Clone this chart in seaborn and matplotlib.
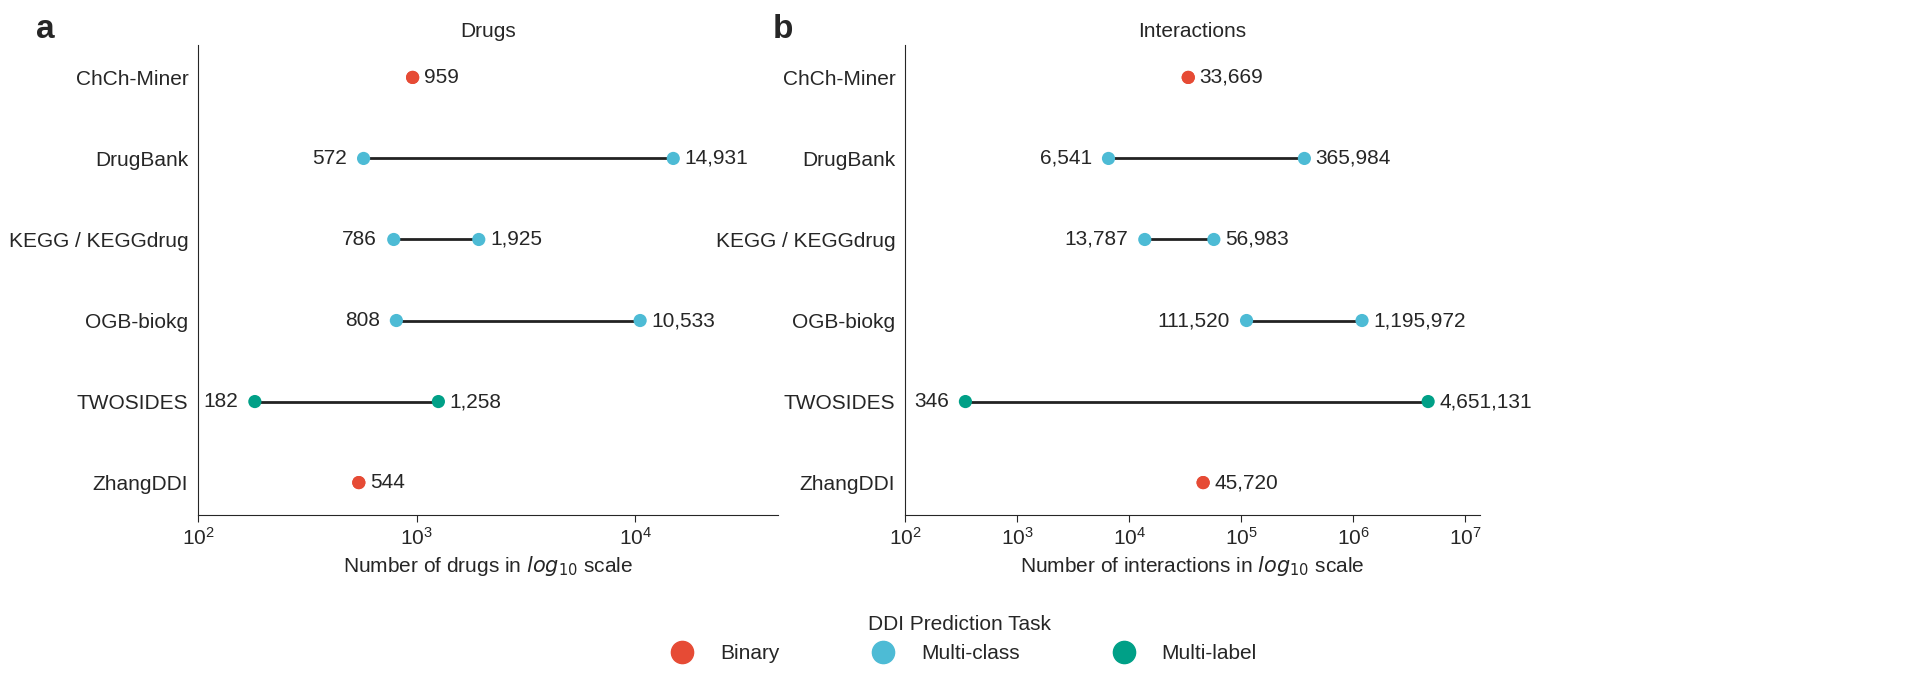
import matplotlib
matplotlib.use("Agg")
import matplotlib.pyplot as plt
import seaborn as sns
import pandas as pd
from matplotlib.lines import Line2D

datasets = ["ChCh-Miner", "DrugBank", "KEGG / KEGGdrug", "OGB-biokg", "TWOSIDES", "ZhangDDI"]
tasks = ["Binary", "Multi-class", "Multi-class", "Multi-class", "Multi-label", "Binary"]
drugs_min = [959, 572, 786, 808, 182, 544]
drugs_max = [959, 14931, 1925, 10533, 1258, 544]
inter_min = [33669, 6541, 13787, 111520, 346, 45720]
inter_max = [33669, 365984, 56983, 1195972, 4651131, 45720]

palette = {"Binary": "#E64B35", "Multi-class": "#4DBBD5", "Multi-label": "#00A087"}

sns.set_style("white")
plt.rcParams['font.family'] = ['Arial', 'Liberation Sans', 'DejaVu Sans']

fig = plt.figure(figsize=(19.18, 6.82), dpi=100)
ax1 = fig.add_axes([198/1918, 1-515/682, 580/1918, 470/682])
ax2 = fig.add_axes([905/1918, 1-515/682, 575/1918, 470/682])


def panel(ax, lo, hi, title, xlabel, xlim, letter):
    df = pd.DataFrame({"dataset": datasets, "task": tasks, "lo": lo, "hi": hi})
    for i, r in df.iterrows():
        if r.lo != r.hi:
            ax.plot([r.lo, r.hi], [i, i], color="#222222", lw=2, zorder=1)
    long = pd.concat([df[["dataset", "task", "lo"]].rename(columns={"lo": "v"}),
                      df[["dataset", "task", "hi"]].rename(columns={"hi": "v"})])
    sns.scatterplot(data=long, x="v", y="dataset", hue="task", palette=palette,
                    s=90, ax=ax, legend=False, zorder=2, edgecolor="none")
    for i, r in df.iterrows():
        if r.lo != r.hi:
            ax.annotate(f"{r.lo:,}", (r.lo, i), xytext=(-12, 0), textcoords="offset points",
                        ha="right", va="center", fontsize=15)
        ax.annotate(f"{r.hi:,}", (r.hi, i), xytext=(8, 0), textcoords="offset points",
                    ha="left", va="center", fontsize=15)
    ax.set_xscale("log")
    ax.set_xlim(*xlim)
    ax.set_ylim(5.4, -0.4)
    ax.set_ylabel("")
    ax.set_xlabel(xlabel, fontsize=15)
    ax.set_title(title, fontsize=15)
    ax.tick_params(axis="both", labelsize=15, left=False)
    ax.tick_params(axis="x", bottom=True, length=5)
    ax.tick_params(axis="x", which="minor", bottom=False)
    sns.despine(ax=ax)
    ax.text(-0.28, 1.0, letter, transform=ax.transAxes, fontsize=24, fontweight="bold", va="bottom")


panel(ax1, drugs_min, drugs_max, "Drugs", r"Number of drugs in $log_{10}$ scale", (100, 45000), "a")
panel(ax2, inter_min, inter_max, "Interactions", r"Number of interactions in $log_{10}$ scale", (100, 1.35e7), "b")
ax2.texts[-1].set_position((-0.23, 1.0))

handles = [Line2D([], [], marker="o", ls="", color=c, markersize=16, label=k) for k, c in palette.items()]
fig.legend(handles=handles, loc="lower center", ncol=3, frameon=False, fontsize=15,
           title="DDI Prediction Task", title_fontsize=15, bbox_to_anchor=(0.5, 0.0),
           columnspacing=4)
fig.savefig("out.png", dpi=100)
